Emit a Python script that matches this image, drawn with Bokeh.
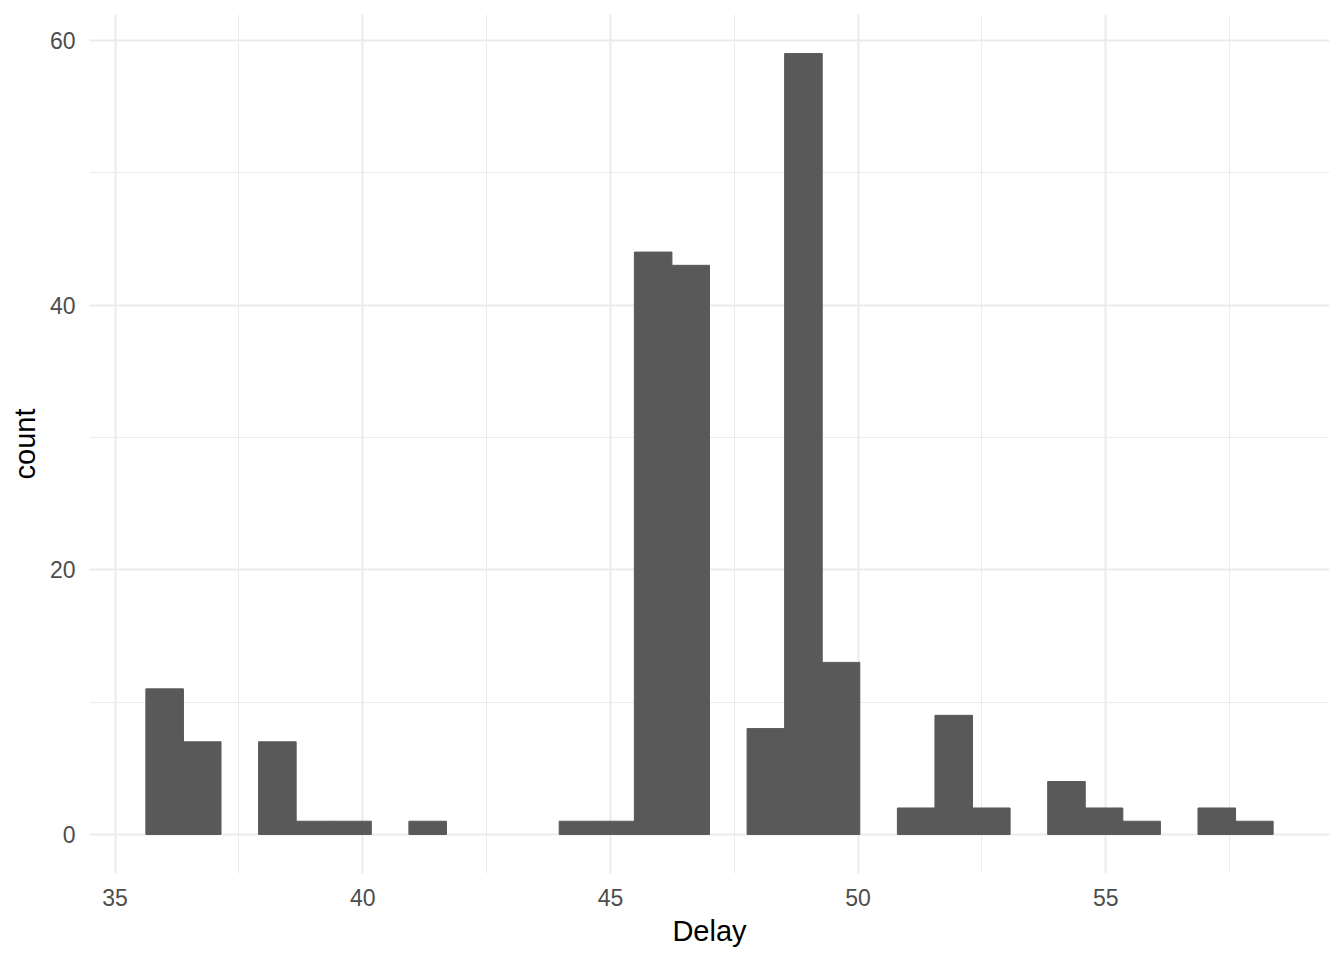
import numpy as np
from bokeh.plotting import figure
from bokeh.models import Range1d, SingleIntervalTicker, ColumnDataSource
from bokeh.embed import file_html
from bokeh.resources import INLINE

# Histogram data (30 bins, first bin centred on data min, last on data max)
data_min = 36.0
data_max = 58.0
n_bins = 30
counts = [11, 7, 0, 7, 1, 1, 0, 1, 0, 0,
          0, 1, 1, 44, 43, 0, 8, 59, 13, 0,
          2, 9, 2, 0, 4, 2, 1, 0, 2, 1]
x_ticks = [35, 40, 45, 50, 55]
y_ticks = [0, 20, 40, 60]

width_bin = (data_max - data_min) / (n_bins - 1)
centers = data_min + width_bin * np.arange(n_bins)
lefts = centers - width_bin / 2
rights = centers + width_bin / 2
counts_arr = np.array(counts)
nz = counts_arr > 0  # empty bins have zero height and draw nothing

src = ColumnDataSource(dict(left=lefts[nz], right=rights[nz],
                            top=counts_arr[nz], bottom=np.zeros(nz.sum())))

xspan = rights[-1] - lefts[0]
yspan = max(counts)
x_range = Range1d(lefts[0] - 0.05 * xspan, rights[-1] + 0.05 * xspan)
y_range = Range1d(-0.05 * yspan, yspan * 1.05)

p = figure(width=1336, height=952, x_range=x_range, y_range=y_range,
           output_backend="svg", toolbar_location=None,
           min_border_left=89, min_border_right=7, min_border_top=14,
           min_border_bottom=79)
p.outline_line_color = None
p.background_fill_color = "white"
p.border_fill_color = "white"

p.quad(left="left", right="right", top="top", bottom="bottom", source=src,
       fill_color="#595959", line_color="#595959", line_width=1)

p.xaxis.ticker = SingleIntervalTicker(interval=5, num_minor_ticks=2)
p.yaxis.ticker = SingleIntervalTicker(interval=20, num_minor_ticks=2)

for ax in (p.xaxis, p.yaxis):
    ax.axis_line_color = None
    ax.major_tick_line_color = None
    ax.minor_tick_line_color = None
    ax.major_tick_out = 0
    ax.major_tick_in = 0
    ax.minor_tick_out = 0
    ax.minor_tick_in = 0
    ax.major_label_text_font = "Liberation Sans"
    ax.major_label_text_font_size = "23px"
    ax.major_label_text_color = "#4D4D4D"
    ax.axis_label_text_font = "Liberation Sans"
    ax.axis_label_text_font_size = "29px"
    ax.axis_label_text_font_style = "normal"
    ax.axis_label_text_color = "black"

p.xaxis.axis_label = "Delay"
p.yaxis.axis_label = "count"
p.xaxis.major_label_standoff = 15
p.yaxis.major_label_standoff = 14
p.xaxis.axis_label_standoff = 6
p.yaxis.axis_label_standoff = 6

for g in (p.xgrid, p.ygrid):
    g.grid_line_color = "#EBEBEB"
    g.grid_line_width = 2
    g.minor_grid_line_color = "#EBEBEB"
    g.minor_grid_line_width = 1

open("out.html", "w").write(file_html(p, INLINE))
